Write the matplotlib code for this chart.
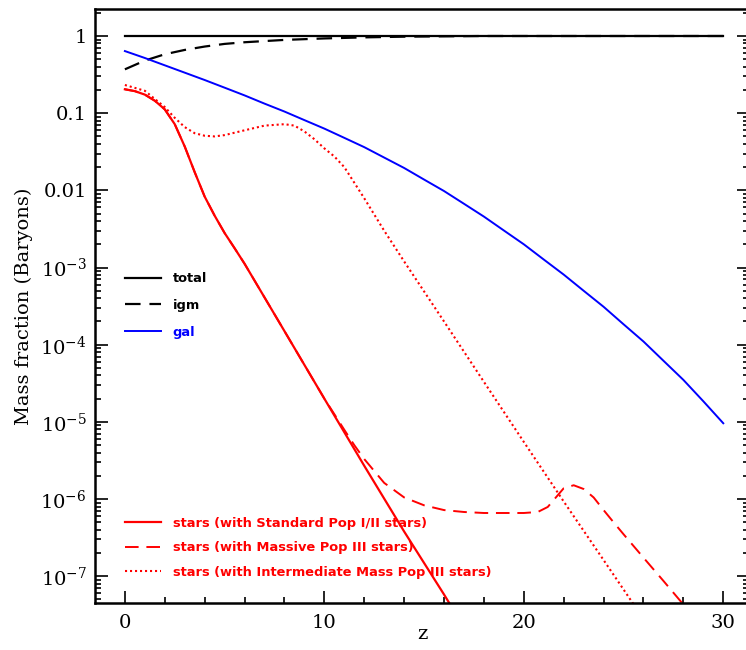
import numpy as np
import matplotlib.pyplot as plt
from matplotlib.ticker import FixedLocator, FixedFormatter, MultipleLocator, LogLocator, NullFormatter

plt.rcParams['font.family'] = 'DejaVu Serif'
plt.rcParams['mathtext.fontset'] = 'dejavuserif'

# total / igm / gal
z_total = [0, 30]
f_total = [1.0, 1.0]

z_igm = [0, 1, 2, 3, 4, 5, 6, 8, 10, 12, 14, 16, 18, 20, 25, 30]
f_igm = [0.37, 0.48, 0.58, 0.66, 0.73, 0.79, 0.83, 0.89, 0.93, 0.96, 0.98, 0.99,
         1.0, 1.0, 1.0, 1.0]

z_gal = list(range(0, 31))
f_gal = [0.638, 0.519, 0.417, 0.335, 0.269, 0.214, 0.170, 0.133, 0.105, 0.0813,
         0.0631, 0.0479, 0.0363, 0.0266, 0.0195, 0.0138, 9.8e-3, 6.7e-3, 4.57e-3,
         3.02e-3, 2.0e-3, 1.27e-3, 8.1e-4, 5.0e-4, 3.1e-4, 1.84e-4, 1.10e-4, 6.2e-5,
         3.5e-5, 1.85e-5, 9.6e-6]

# stars, standard Pop I/II
z_std = [0, 0.5, 1, 1.5, 2, 2.5, 3, 3.5, 4, 4.5, 5, 5.5, 6, 7, 8, 10, 12, 14, 16, 17]
f_std = [0.204, 0.193, 0.174, 0.145, 0.112, 0.072, 0.037, 0.0172, 8.3e-3, 4.7e-3,
         2.8e-3, 1.78e-3, 1.12e-3, 4.1e-4, 1.5e-4, 2.0e-5, 2.7e-6, 3.8e-7, 5.8e-8, 2.2e-8]

# stars, massive Pop III
z_mas = [0, 0.5, 1, 1.5, 2, 2.5, 3, 3.5, 4, 4.5, 5, 5.5, 6, 7, 8, 10, 10.5, 11, 11.5,
         12, 13, 14, 15, 16, 17, 18, 19, 20, 20.7, 21.2, 21.7, 22, 22.5, 23, 23.5, 24,
         24.5, 25, 26, 27, 28]
f_mas = [0.204, 0.193, 0.174, 0.145, 0.112, 0.072, 0.037, 0.0172, 8.3e-3, 4.7e-3,
         2.8e-3, 1.78e-3, 1.12e-3, 4.1e-4, 1.5e-4, 2.0e-5, 1.26e-5, 7.9e-6, 5.0e-6,
         3.3e-6, 1.62e-6, 1.05e-6, 8.3e-7, 7.2e-7, 6.8e-7, 6.6e-7, 6.6e-7, 6.6e-7,
         6.8e-7, 7.9e-7, 1.12e-6, 1.38e-6, 1.51e-6, 1.35e-6, 1.05e-6, 7.2e-7, 5.0e-7,
         3.5e-7, 1.74e-7, 8.7e-8, 4.3e-8]

# stars, intermediate mass Pop III
z_int = [0, 1, 2, 2.5, 3, 3.5, 4, 4.5, 5, 6, 7, 8, 8.5, 9, 9.5, 10, 10.5, 11, 12, 13,
         14, 16, 18, 20, 22, 24, 26]
f_int = [0.232, 0.195, 0.12, 0.087, 0.066, 0.055, 0.051, 0.050, 0.052, 0.060, 0.069,
         0.072, 0.069, 0.058, 0.046, 0.035, 0.0275, 0.020, 7.9e-3, 3.0e-3, 1.2e-3,
         2.0e-4, 3.3e-5, 5.5e-6, 9.3e-7, 1.62e-7, 2.8e-8]

ytick_vals = [1e-7, 1e-6, 1e-5, 1e-4, 1e-3, 0.01, 0.1, 1]
ytick_labels = ['$10^{-7}$', '$10^{-6}$', '$10^{-5}$', '$10^{-4}$', '$10^{-3}$', '0.01', '0.1', '1']

fig = plt.figure(figsize=(7.46, 6.5), dpi=100)
ax = fig.add_axes([0.1273, 0.0723, 0.877, 0.9139])

l_tot, = ax.plot(z_total, f_total, color='black', lw=1.6, label='total')
l_igm, = ax.plot(z_igm, f_igm, color='black', lw=1.6, ls=(0, (7, 4)), label='igm')
l_gal, = ax.plot(z_gal, f_gal, color='blue', lw=1.4, label='gal')
l_std, = ax.plot(z_std, f_std, color='red', lw=1.6, label='stars (with Standard Pop I/II stars)')
l_mas, = ax.plot(z_mas, f_mas, color='red', lw=1.4, ls=(0, (7, 4)),
                 label='stars (with Massive Pop III stars)')
l_int, = ax.plot(z_int, f_int, color='red', lw=1.5, ls=(0, (1, 1.4)),
                 label='stars (with Intermediate Mass Pop III stars)')

ax.set_yscale('log')
ax.set_xlim(-1.5, 31.3)
ax.set_ylim(4.5e-8, 2.24)

ax.xaxis.set_major_locator(MultipleLocator(10))
ax.xaxis.set_minor_locator(MultipleLocator(2))
ax.yaxis.set_major_locator(FixedLocator(ytick_vals))
ax.yaxis.set_major_formatter(FixedFormatter(ytick_labels))
ax.yaxis.set_minor_locator(LogLocator(base=10, subs=np.arange(2, 10)))
ax.yaxis.set_minor_formatter(NullFormatter())

ax.tick_params(axis='both', which='both', direction='in', labelsize=14, width=1.2)
ax.tick_params(axis='y', which='major', length=9, right=True, pad=6)
ax.tick_params(axis='y', which='minor', length=4, right=True)
ax.tick_params(axis='x', which='major', length=9, top=False, pad=8)
ax.tick_params(axis='x', which='minor', length=4.5, top=False)
for s in ax.spines.values():
    s.set_linewidth(1.8)

ax.set_xlabel('z', fontsize=14, labelpad=-5)
ax.set_ylabel('Mass fraction (Baryons)', fontsize=14, labelpad=5)

leg_font = {'family': 'DejaVu Sans', 'weight': 'bold', 'size': 9.4}
leg1 = ax.legend(handles=[l_tot, l_igm, l_gal], loc='upper left',
                 bbox_to_anchor=(0.0459, 0.557), frameon=False, prop=leg_font,
                 handlelength=2.75, handletextpad=0.9, labelspacing=1.05,
                 borderpad=0, borderaxespad=0)
for t, c in zip(leg1.get_texts(), ['black', 'black', 'blue']):
    t.set_color(c)
ax.add_artist(leg1)

leg2 = ax.legend(handles=[l_std, l_mas, l_int], loc='upper left',
                 bbox_to_anchor=(0.0459, 0.145), frameon=False, prop=leg_font,
                 handlelength=2.75, handletextpad=0.9, labelspacing=0.88,
                 borderpad=0, borderaxespad=0)
for t in leg2.get_texts():
    t.set_color('red')

fig.savefig('out.png', dpi=100)
